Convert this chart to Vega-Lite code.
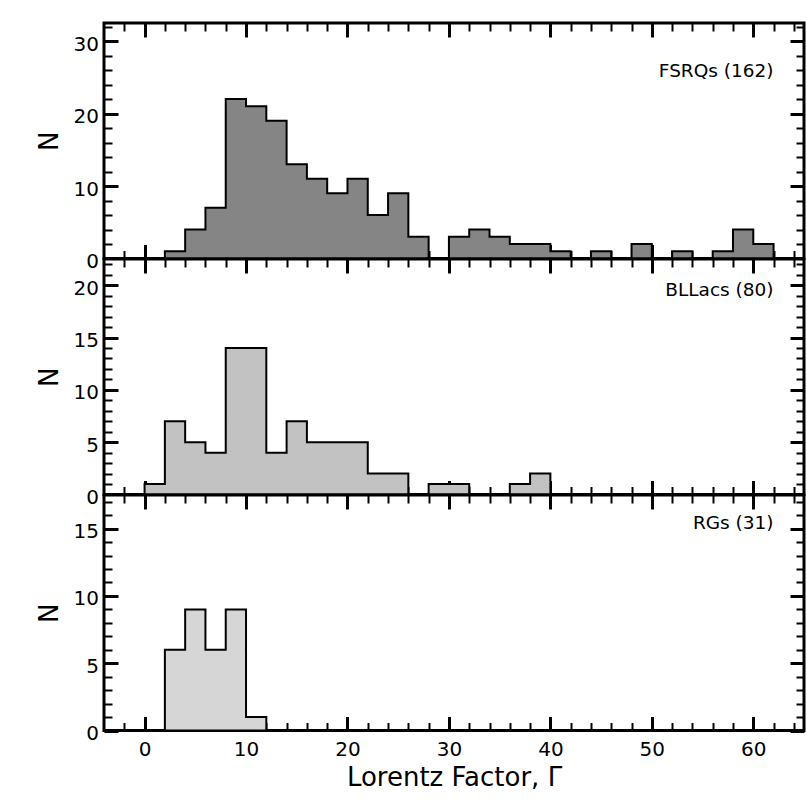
{
  "$schema": "https://vega.github.io/schema/vega-lite/v6.json",
  "padding": {"left": 34, "top": 20, "right": 0, "bottom": 0},
  "background": "white",
  "datasets": {
    "fsrq": [{"x":2,"n":1},{"x":4,"n":4},{"x":6,"n":7},{"x":8,"n":22},{"x":10,"n":21},{"x":12,"n":19},{"x":14,"n":13},{"x":16,"n":11},{"x":18,"n":9},{"x":20,"n":11},{"x":22,"n":6},{"x":24,"n":9},{"x":26,"n":3},{"x":28,"n":0},{"x":30,"n":3},{"x":32,"n":4},{"x":34,"n":3},{"x":36,"n":2},{"x":38,"n":2},{"x":40,"n":1},{"x":42,"n":0},{"x":44,"n":1},{"x":46,"n":0},{"x":48,"n":2},{"x":50,"n":0},{"x":52,"n":1},{"x":54,"n":0},{"x":56,"n":1},{"x":58,"n":4},{"x":60,"n":2},{"x":62,"n":2}],
    "bll": [{"x":0,"n":1},{"x":2,"n":7},{"x":4,"n":5},{"x":6,"n":4},{"x":8,"n":14},{"x":10,"n":14},{"x":12,"n":4},{"x":14,"n":7},{"x":16,"n":5},{"x":18,"n":5},{"x":20,"n":5},{"x":22,"n":2},{"x":24,"n":2},{"x":26,"n":0},{"x":28,"n":1},{"x":30,"n":1},{"x":32,"n":0},{"x":34,"n":0},{"x":36,"n":1},{"x":38,"n":2},{"x":40,"n":2}],
    "rg": [{"x":2,"n":6},{"x":4,"n":9},{"x":6,"n":6},{"x":8,"n":9},{"x":10,"n":1},{"x":12,"n":1}]
  },
  "spacing": 0,
  "bounds": "flush",
  "vconcat": [
    {
      "width": 700, "height": 235.5,
      "data": {"name": "fsrq"},
      "resolve": {"axis": {"x": "independent", "y": "independent"}},
      "layer": [
        {
          "mark": {"type": "area", "interpolate": "step-after", "fill": "#858585", "stroke": "black", "strokeWidth": 2},
          "encoding": {
            "x": {"field": "x", "type": "quantitative", "scale": {"domain": [-4, 65], "nice": false, "zero": false},
                  "axis": {"orient": "bottom", "values": [0,10,20,30,40,50,60], "tickSize": -14, "tickWidth": 3, "labels": false, "title": null}},
            "y": {"field": "n", "type": "quantitative", "stack": null, "scale": {"domain": [0, 32.5], "nice": false},
                  "axis": {"orient": "left", "values": [0,10,20,30], "tickSize": -14, "tickWidth": 3, "labelPadding": 19.5, "labelOffset": 3, "title": "N", "titlePadding": 10.7, "minExtent": 31, "maxExtent": 31}}
          }
        },
        {
          "mark": {"type": "point", "opacity": 0},
          "encoding": {
            "x": {"field": "x", "type": "quantitative", "axis": {"orient": "bottom", "values": [-2,2,4,6,8,12,14,16,18,22,24,26,28,32,34,36,38,42,44,46,48,52,54,56,58,62,64], "tickSize": -8, "tickWidth": 2, "labels": false, "title": null}},
            "y": {"field": "n", "type": "quantitative", "axis": {"orient": "left", "values": [2,4,6,8,12,14,16,18,22,24,26,28,32], "tickSize": -8, "tickWidth": 2, "labels": false, "title": null}}
          }
        },
        {
          "mark": {"type": "point", "opacity": 0},
          "encoding": {
            "x": {"field": "x", "type": "quantitative", "axis": {"orient": "top", "values": [0,10,20,30,40,50,60], "tickSize": -14, "tickWidth": 3, "labels": false, "title": null}},
            "y": {"field": "n", "type": "quantitative", "axis": {"orient": "right", "values": [0,10,20,30], "tickSize": -14, "tickWidth": 3, "labels": false, "title": null}}
          }
        },
        {
          "mark": {"type": "point", "opacity": 0},
          "encoding": {
            "x": {"field": "x", "type": "quantitative", "axis": {"orient": "top", "values": [-2,2,4,6,8,12,14,16,18,22,24,26,28,32,34,36,38,42,44,46,48,52,54,56,58,62,64], "tickSize": -8, "tickWidth": 2, "labels": false, "title": null}},
            "y": {"field": "n", "type": "quantitative", "axis": {"orient": "right", "values": [2,4,6,8,12,14,16,18,22,24,26,28,32], "tickSize": -8, "tickWidth": 2, "labels": false, "title": null}}
          }
        },
        {
          "data": {"values": [{"label": "FSRQs (162)"}]},
          "mark": {"type": "text", "align": "right", "baseline": "alphabetic", "fontSize": 18.5, "font": "DejaVu Sans", "color": "black"},
          "encoding": {
            "x": {"datum": 62, "type": "quantitative", "axis": null},
            "y": {"datum": 25, "type": "quantitative", "axis": null},
            "text": {"field": "label"}
          }
        }
      ]
    },
    {
      "width": 700, "height": 235.5,
      "data": {"name": "bll"},
      "resolve": {"axis": {"x": "independent", "y": "independent"}},
      "layer": [
        {
          "mark": {"type": "area", "interpolate": "step-after", "fill": "#c2c2c2", "stroke": "black", "strokeWidth": 2},
          "encoding": {
            "x": {"field": "x", "type": "quantitative", "scale": {"domain": [-4, 65], "nice": false, "zero": false},
                  "axis": {"orient": "bottom", "values": [0,10,20,30,40,50,60], "tickSize": -14, "tickWidth": 3, "labels": false, "title": null}},
            "y": {"field": "n", "type": "quantitative", "stack": null, "scale": {"domain": [0, 22.5], "nice": false},
                  "axis": {"orient": "left", "values": [0,5,10,15,20], "tickSize": -14, "tickWidth": 3, "labelPadding": 19.5, "labelOffset": 3, "title": "N", "titlePadding": 10.7, "minExtent": 31, "maxExtent": 31}}
          }
        },
        {
          "mark": {"type": "point", "opacity": 0},
          "encoding": {
            "x": {"field": "x", "type": "quantitative", "axis": {"orient": "bottom", "values": [-2,2,4,6,8,12,14,16,18,22,24,26,28,32,34,36,38,42,44,46,48,52,54,56,58,62,64], "tickSize": -8, "tickWidth": 2, "labels": false, "title": null}},
            "y": {"field": "n", "type": "quantitative", "axis": {"orient": "left", "values": [1,2,3,4,6,7,8,9,11,12,13,14,16,17,18,19,21,22], "tickSize": -8, "tickWidth": 2, "labels": false, "title": null}}
          }
        },
        {
          "mark": {"type": "point", "opacity": 0},
          "encoding": {
            "x": {"field": "x", "type": "quantitative", "axis": {"orient": "top", "values": [0,10,20,30,40,50,60], "tickSize": -14, "tickWidth": 3, "labels": false, "title": null}},
            "y": {"field": "n", "type": "quantitative", "axis": {"orient": "right", "values": [0,5,10,15,20], "tickSize": -14, "tickWidth": 3, "labels": false, "title": null}}
          }
        },
        {
          "mark": {"type": "point", "opacity": 0},
          "encoding": {
            "x": {"field": "x", "type": "quantitative", "axis": {"orient": "top", "values": [-2,2,4,6,8,12,14,16,18,22,24,26,28,32,34,36,38,42,44,46,48,52,54,56,58,62,64], "tickSize": -8, "tickWidth": 2, "labels": false, "title": null}},
            "y": {"field": "n", "type": "quantitative", "axis": {"orient": "right", "values": [1,2,3,4,6,7,8,9,11,12,13,14,16,17,18,19,21,22], "tickSize": -8, "tickWidth": 2, "labels": false, "title": null}}
          }
        },
        {
          "data": {"values": [{"label": "BLLacs (80)"}]},
          "mark": {"type": "text", "align": "right", "baseline": "alphabetic", "fontSize": 18.5, "font": "DejaVu Sans", "color": "black"},
          "encoding": {
            "x": {"datum": 62, "type": "quantitative", "axis": null},
            "y": {"datum": 19, "type": "quantitative", "axis": null},
            "text": {"field": "label"}
          }
        }
      ]
    },
    {
      "width": 700, "height": 235.5,
      "data": {"name": "rg"},
      "resolve": {"axis": {"x": "independent", "y": "independent"}},
      "layer": [
        {
          "mark": {"type": "area", "interpolate": "step-after", "fill": "#d6d6d6", "stroke": "black", "strokeWidth": 2},
          "encoding": {
            "x": {"field": "x", "type": "quantitative", "scale": {"domain": [-4, 65], "nice": false, "zero": false},
                  "axis": {"orient": "bottom", "values": [0,10,20,30,40,50,60], "tickSize": -14, "tickWidth": 3, "labels": true, "labelPadding": 22.6, "title": "Lorentz Factor, Γ", "titlePadding": 5}},
            "y": {"field": "n", "type": "quantitative", "stack": null, "scale": {"domain": [0, 17.5], "nice": false},
                  "axis": {"orient": "left", "values": [0,5,10,15], "tickSize": -14, "tickWidth": 3, "labelPadding": 19.5, "labelOffset": 3, "title": "N", "titlePadding": 10.7, "minExtent": 31, "maxExtent": 31}}
          }
        },
        {
          "mark": {"type": "point", "opacity": 0},
          "encoding": {
            "x": {"field": "x", "type": "quantitative", "axis": {"orient": "bottom", "values": [-2,2,4,6,8,12,14,16,18,22,24,26,28,32,34,36,38,42,44,46,48,52,54,56,58,62,64], "tickSize": -8, "tickWidth": 2, "labels": false, "title": null}},
            "y": {"field": "n", "type": "quantitative", "axis": {"orient": "left", "values": [1,2,3,4,6,7,8,9,11,12,13,14,16,17], "tickSize": -8, "tickWidth": 2, "labels": false, "title": null}}
          }
        },
        {
          "mark": {"type": "point", "opacity": 0},
          "encoding": {
            "x": {"field": "x", "type": "quantitative", "axis": {"orient": "top", "values": [0,10,20,30,40,50,60], "tickSize": -14, "tickWidth": 3, "labels": false, "title": null}},
            "y": {"field": "n", "type": "quantitative", "axis": {"orient": "right", "values": [0,5,10,15], "tickSize": -14, "tickWidth": 3, "labels": false, "title": null}}
          }
        },
        {
          "mark": {"type": "point", "opacity": 0},
          "encoding": {
            "x": {"field": "x", "type": "quantitative", "axis": {"orient": "top", "values": [-2,2,4,6,8,12,14,16,18,22,24,26,28,32,34,36,38,42,44,46,48,52,54,56,58,62,64], "tickSize": -8, "tickWidth": 2, "labels": false, "title": null}},
            "y": {"field": "n", "type": "quantitative", "axis": {"orient": "right", "values": [1,2,3,4,6,7,8,9,11,12,13,14,16,17], "tickSize": -8, "tickWidth": 2, "labels": false, "title": null}}
          }
        },
        {
          "data": {"values": [{"label": "RGs (31)"}]},
          "mark": {"type": "text", "align": "right", "baseline": "alphabetic", "fontSize": 18.5, "font": "DejaVu Sans", "color": "black"},
          "encoding": {
            "x": {"datum": 62, "type": "quantitative", "axis": null},
            "y": {"datum": 15, "type": "quantitative", "axis": null},
            "text": {"field": "label"}
          }
        }
      ]
    }
  ],
  "config": {
    "font": "DejaVu Sans",
    "view": {"stroke": "black", "strokeWidth": 3, "fill": "white"},
    "axis": {
      "grid": false, "domain": false, "tickColor": "black",
      "labelFont": "DejaVu Sans", "labelFontSize": 20, "labelColor": "black",
      "titleFont": "DejaVu Sans", "titleFontSize": 26, "titleFontWeight": "normal", "titleColor": "black",
      "labelFlush": false, "labelOverlap": false, "zindex": 1
    }
  }
}
